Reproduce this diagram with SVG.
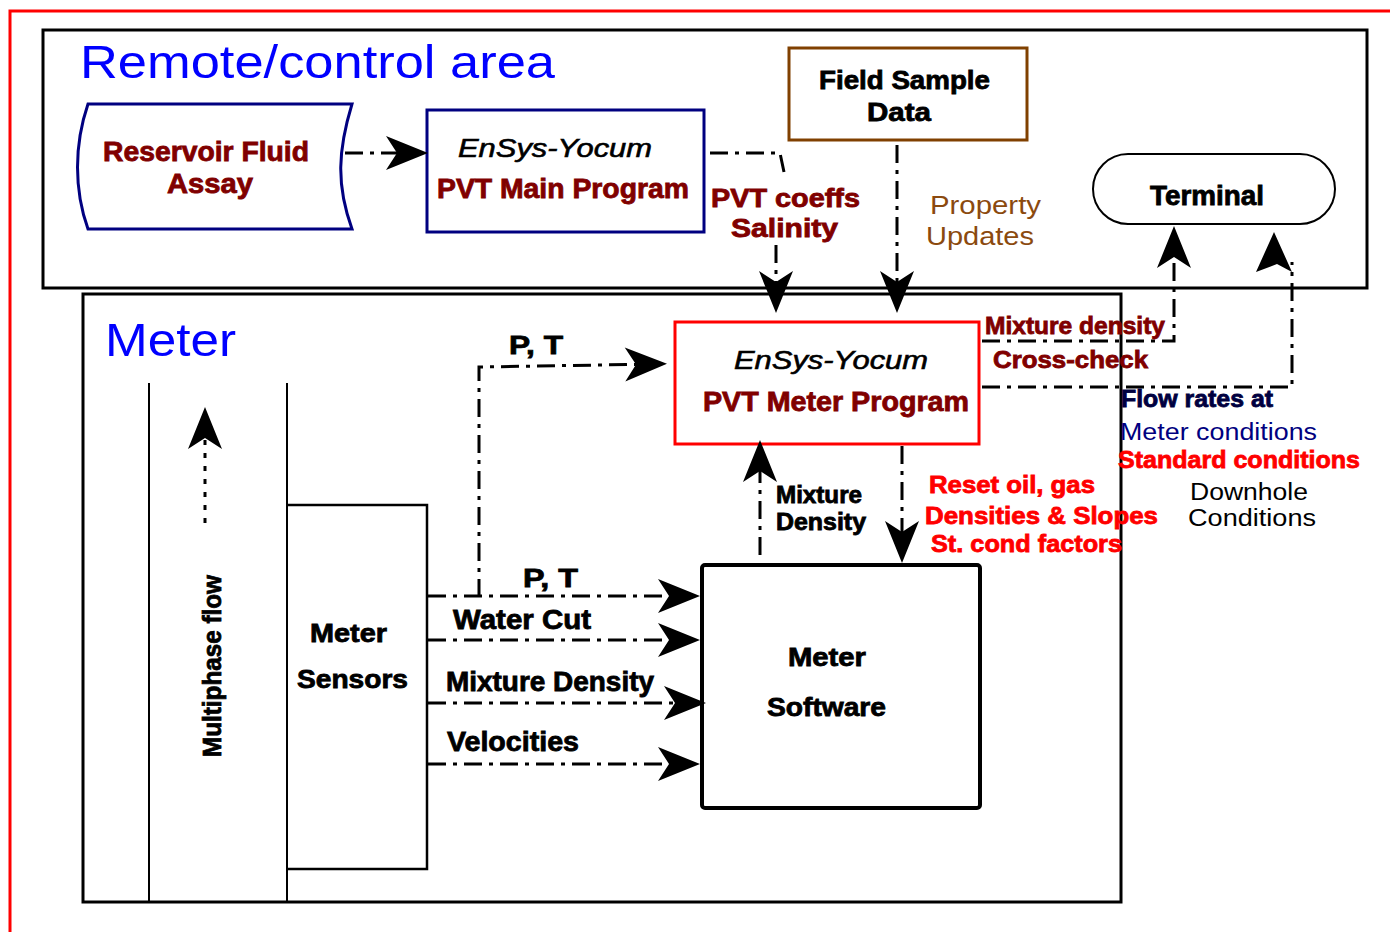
<svg xmlns="http://www.w3.org/2000/svg" width="1390" height="932" viewBox="0 0 1390 932">
<style>
  text { font-family: "Liberation Sans", Arial, sans-serif; }
  .b { font-weight: bold; stroke: #000; stroke-width: 0.8; }
  .it { font-style: italic; stroke: #000; stroke-width: 0.6; }
  .dr { fill: #800000; stroke: #800000; }
  .rd { fill: #FF0000; stroke: #FF0000; }
  .nv { fill: #000040; stroke: #000040; }
  .conn { fill: none; stroke: #000; stroke-width: 3; stroke-dasharray: 18 7 4 7; }
  .dot { fill: none; stroke: #000; stroke-width: 3; stroke-dasharray: 5 8; }
  .frame { fill: none; stroke: #000; stroke-width: 3; }
</style>
<defs>
  <marker id="ah" markerUnits="userSpaceOnUse" markerWidth="50" markerHeight="40" viewBox="-44 -20 50 40" refX="-8" refY="0" orient="auto">
    <path d="M0,0 L-42,-17 L-31,0 L-42,17 Z" fill="#000"/>
  </marker>
</defs>
<rect width="1390" height="932" fill="#fff"/>

<g id="border">
  <path d="M10,932 L10,11 L1390,11" fill="none" stroke="#FF0000" stroke-width="3"/>
</g>

<g id="remote-area">
  <rect x="43" y="30" width="1324" height="258" class="frame"/>
  <text x="80" y="78" font-size="46" fill="#0000FF" textLength="475" lengthAdjust="spacingAndGlyphs">Remote/control area</text>
</g>
<g id="meter-area">
  <rect x="83" y="294" width="1038" height="608" class="frame"/>
  <text x="105" y="356" font-size="46" fill="#0000FF" textLength="131" lengthAdjust="spacingAndGlyphs">Meter</text>
</g>

<g id="flow-lane">
  <line x1="149" y1="383" x2="149" y2="902" stroke="#000" stroke-width="2"/>
  <line x1="287" y1="383" x2="287" y2="902" stroke="#000" stroke-width="2"/>
  <text transform="translate(221,757) rotate(-90)" class="b" font-size="26" textLength="182" lengthAdjust="spacingAndGlyphs">Multiphase flow</text>
</g>

<g id="reservoir">
  <path d="M88,104 L352,104 C338,150 336,185 352,229 L88,229 C74,190 74,145 88,104 Z" fill="#fff" stroke="#000080" stroke-width="3"/>
  <text x="103" y="161" class="b dr" font-size="27" textLength="206" lengthAdjust="spacingAndGlyphs">Reservoir Fluid</text>
  <text x="167" y="193" class="b dr" font-size="27" textLength="86" lengthAdjust="spacingAndGlyphs">Assay</text>
</g>

<g id="pvt-main">
  <rect x="427" y="110" width="277" height="122" fill="#fff" stroke="#000080" stroke-width="3"/>
  <text x="458" y="157" class="it" font-size="26" textLength="194" lengthAdjust="spacingAndGlyphs">EnSys-Yocum</text>
  <text x="437" y="198" class="b dr" font-size="27" textLength="252" lengthAdjust="spacingAndGlyphs">PVT Main Program</text>
</g>

<g id="field-sample">
  <rect x="789" y="48" width="238" height="92" fill="#fff" stroke="#804000" stroke-width="3"/>
  <text x="819" y="89" class="b" font-size="26" textLength="171" lengthAdjust="spacingAndGlyphs">Field Sample</text>
  <text x="867" y="121" class="b" font-size="26" textLength="64" lengthAdjust="spacingAndGlyphs">Data</text>
</g>

<g id="terminal">
  <rect x="1093" y="154" width="242" height="70" rx="35" fill="#fff" stroke="#000" stroke-width="2"/>
  <text x="1150" y="205" class="b" font-size="27" textLength="114" lengthAdjust="spacingAndGlyphs">Terminal</text>
</g>

<g id="pvt-meter">
  <rect x="675" y="322" width="304" height="122" fill="#fff" stroke="#FF0000" stroke-width="3"/>
  <text x="734" y="369" class="it" font-size="26" textLength="194" lengthAdjust="spacingAndGlyphs">EnSys-Yocum</text>
  <text x="703" y="411" class="b dr" font-size="27" textLength="266" lengthAdjust="spacingAndGlyphs">PVT Meter Program</text>
</g>

<g id="meter-sensors">
  <path d="M287,505 L427,505 L427,869 L287,869" fill="none" stroke="#000" stroke-width="2.5"/>
  <text x="310" y="642" class="b" font-size="26" textLength="77" lengthAdjust="spacingAndGlyphs">Meter</text>
  <text x="297" y="688" class="b" font-size="26" textLength="111" lengthAdjust="spacingAndGlyphs">Sensors</text>
</g>

<g id="meter-software">
  <rect x="702" y="565" width="278" height="243" rx="3" fill="#fff" stroke="#000" stroke-width="4"/>
  <text x="788" y="666" class="b" font-size="26" textLength="78" lengthAdjust="spacingAndGlyphs">Meter</text>
  <text x="767" y="716" class="b" font-size="26" textLength="119" lengthAdjust="spacingAndGlyphs">Software</text>
</g>

<g id="connectors">
  <path class="conn" d="M345,153 L420,153" marker-end="url(#ah)"/>
  <path class="conn" d="M710,153 L780,153 L784,172"/>
  <path class="conn" d="M776,245 L776,305" marker-end="url(#ah)"/>
  <path class="conn" d="M897,145 L897,305" marker-end="url(#ah)"/>
  <path class="conn" d="M479,597 L479,367 L659,364" marker-end="url(#ah)"/>
  <path class="conn" d="M760,555 L760,448" marker-end="url(#ah)"/>
  <path class="conn" d="M902,446 L902,555" marker-end="url(#ah)"/>
  <path class="conn" d="M982,341 L1174,341 L1174,234" marker-end="url(#ah)"/>
  <path class="conn" d="M982,387 L1292,387 L1292,262"/>
  <path d="M1274,232 L1292,272 L1277,264 L1256,272 Z" fill="#000"/>
  <path class="conn" d="M428,596 L692,596" marker-end="url(#ah)"/>
  <path class="conn" d="M428,640 L692,640" marker-end="url(#ah)"/>
  <path class="conn" d="M428,703 L698,703" marker-end="url(#ah)"/>
  <path class="conn" d="M428,764 L692,764" marker-end="url(#ah)"/>
  <path class="dot" d="M205,523 L205,415" marker-end="url(#ah)"/>
</g>

<g id="labels">
  <text x="711" y="207" class="b dr" font-size="26" textLength="149" lengthAdjust="spacingAndGlyphs">PVT coeffs</text>
  <text x="731" y="237" class="b dr" font-size="26" textLength="107" lengthAdjust="spacingAndGlyphs">Salinity</text>
  <text x="930" y="214" font-size="25" fill="#8B4A0E" textLength="111" lengthAdjust="spacingAndGlyphs">Property</text>
  <text x="926" y="245" font-size="25" fill="#8B4A0E" textLength="108" lengthAdjust="spacingAndGlyphs">Updates</text>
  <text x="985" y="334" class="b dr" font-size="24" textLength="180" lengthAdjust="spacingAndGlyphs">Mixture density</text>
  <text x="993" y="368" class="b dr" font-size="24" textLength="155" lengthAdjust="spacingAndGlyphs">Cross-check</text>
  <text x="509" y="354" class="b" font-size="26" textLength="54" lengthAdjust="spacingAndGlyphs">P, T</text>
  <text x="776" y="503" class="b" font-size="23" textLength="86" lengthAdjust="spacingAndGlyphs">Mixture</text>
  <text x="776" y="530" class="b" font-size="23" textLength="90" lengthAdjust="spacingAndGlyphs">Density</text>
  <text x="929" y="493" class="b rd" font-size="24" textLength="166" lengthAdjust="spacingAndGlyphs">Reset oil, gas</text>
  <text x="925" y="524" class="b rd" font-size="24" textLength="233" lengthAdjust="spacingAndGlyphs">Densities &amp; Slopes</text>
  <text x="931" y="552" class="b rd" font-size="24" textLength="191" lengthAdjust="spacingAndGlyphs">St. cond factors</text>
  <text x="1121" y="407" class="b nv" font-size="24" textLength="152" lengthAdjust="spacingAndGlyphs">Flow rates at</text>
  <text x="1120" y="440" font-size="23" fill="#000080" textLength="197" lengthAdjust="spacingAndGlyphs">Meter conditions</text>
  <text x="1118" y="468" class="b rd" font-size="24" textLength="242" lengthAdjust="spacingAndGlyphs">Standard conditions</text>
  <text x="1190" y="500" font-size="23" textLength="118" lengthAdjust="spacingAndGlyphs">Downhole</text>
  <text x="1188" y="526" font-size="23" textLength="128" lengthAdjust="spacingAndGlyphs">Conditions</text>
  <text x="523" y="587" class="b" font-size="26" textLength="55" lengthAdjust="spacingAndGlyphs">P, T</text>
  <text x="453" y="629" class="b" font-size="27" textLength="138" lengthAdjust="spacingAndGlyphs">Water Cut</text>
  <text x="446" y="691" class="b" font-size="27" textLength="208" lengthAdjust="spacingAndGlyphs">Mixture Density</text>
  <text x="447" y="751" class="b" font-size="27" textLength="132" lengthAdjust="spacingAndGlyphs">Velocities</text>
</g>
</svg>
